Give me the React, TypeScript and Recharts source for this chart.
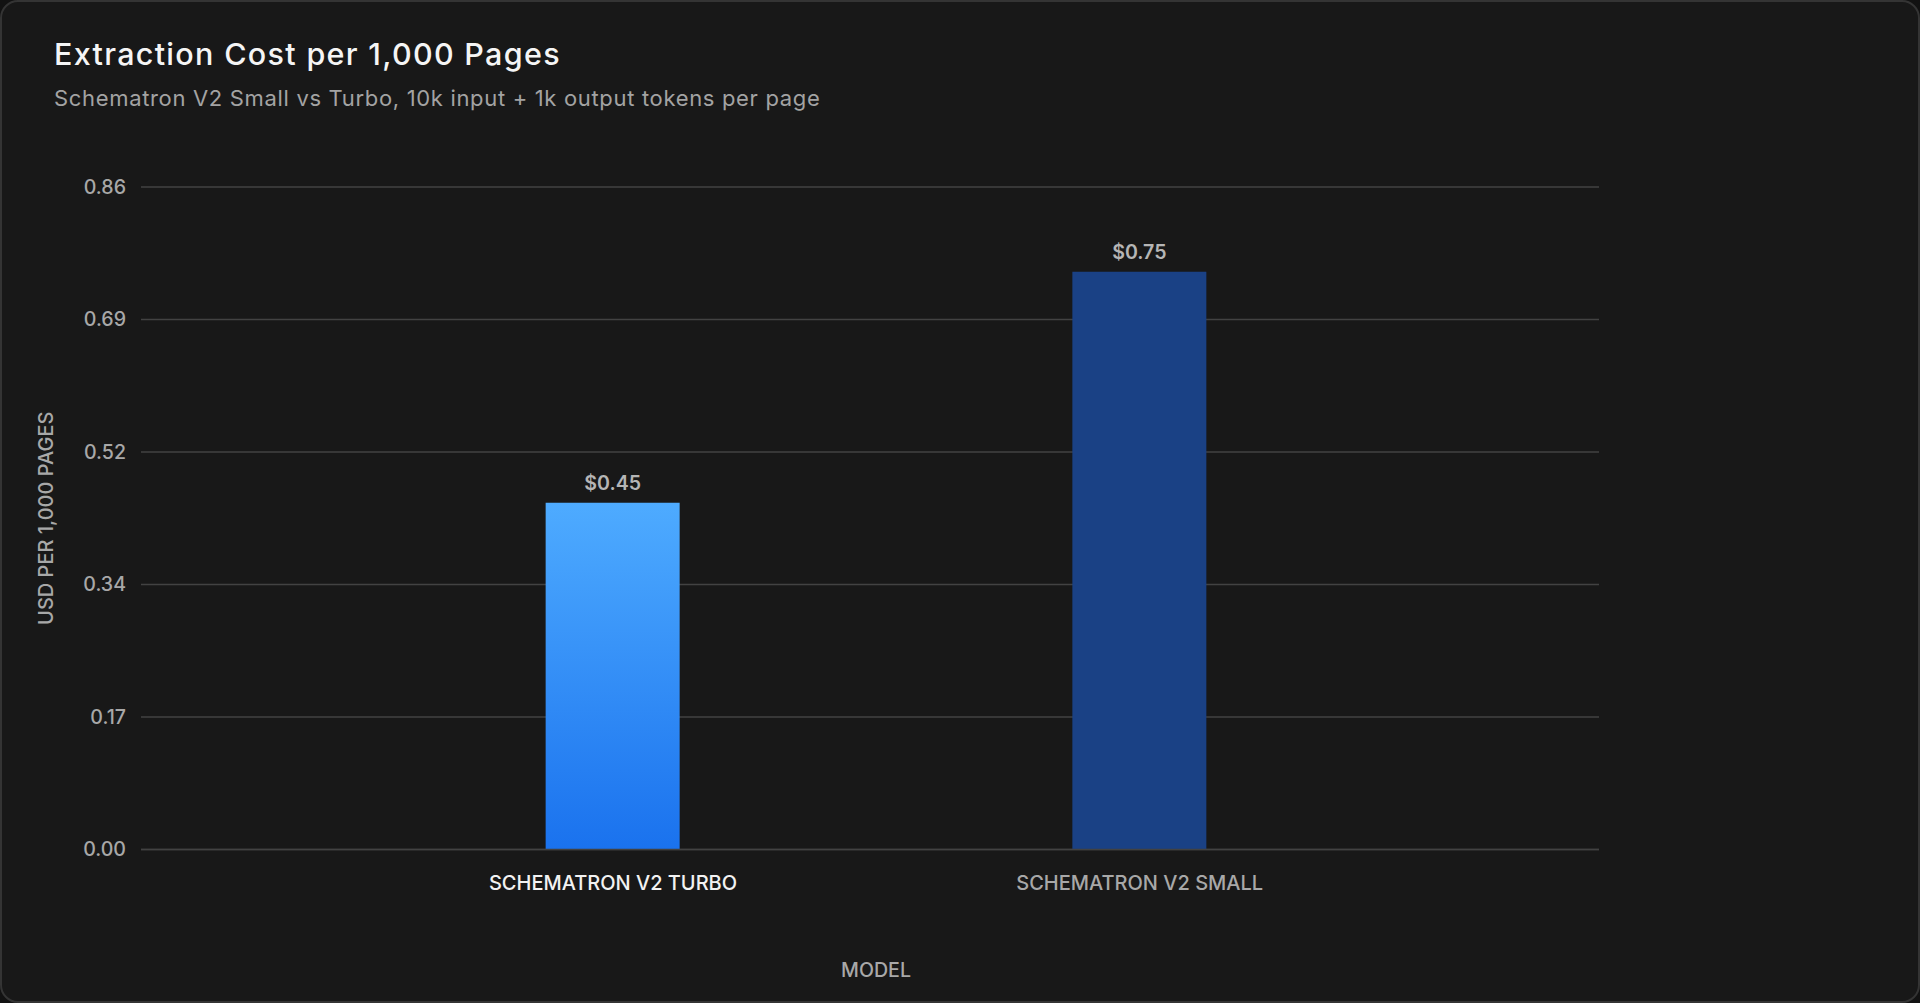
import React from "react";
import { BarChart, Bar, XAxis, YAxis, CartesianGrid, LabelList, Label, Cell } from "recharts";

const models = ["SCHEMATRON V2 TURBO", "SCHEMATRON V2 SMALL"];
const costs = [0.45, 0.75];
const yTicks = [0, 0.172, 0.344, 0.516, 0.688, 0.86];
const barFills = ["url(#turboGrad)", "#1a4185"];
const tickColors = ["#f2f2f2", "#a8a8a8"];

const data = models.map((m, i) => ({ model: m, cost: costs[i] }));

const FONT = "Inter, 'Noto Sans', sans-serif";

const XTick = (props: any) => {
  const { x, y, payload, index } = props;
  return (
    <text
      x={x}
      y={y}
      dy="0.71em"
      textAnchor="middle"
      fill={tickColors[index] ?? "#a8a8a8"}
      fontSize={20}
      fontWeight={500}
      fontFamily={FONT}
    >
      {payload.value}
    </text>
  );
};

export default function App() {
  return (
    <div style={{ position: "fixed", left: 0, top: 0, width: 1920, height: 1003, background: "#121212" }}>
      <div
        style={{
          position: "absolute",
          left: 0,
          top: 0,
          width: 1920,
          height: 1003,
          boxSizing: "border-box",
          border: "2px solid #343434",
          borderRadius: 18,
          background: "#181818",
        }}
      />
      <div
        style={{
          position: "absolute",
          left: 54,
          top: 39,
          fontFamily: FONT,
          fontSize: 30.5,
          lineHeight: 1,
          fontWeight: 500,
          letterSpacing: 1.3,
          color: "#f5f5f5",
          whiteSpace: "nowrap",
        }}
      >
        Extraction Cost per 1,000 Pages
      </div>
      <div
        style={{
          position: "absolute",
          left: 54,
          top: 87,
          fontFamily: FONT,
          fontSize: 22,
          lineHeight: 1,
          fontWeight: 400,
          letterSpacing: 0.67,
          color: "#a3a3a3",
          whiteSpace: "nowrap",
        }}
      >
        Schematron V2 Small vs Turbo, 10k input + 1k output tokens per page
      </div>
      <div style={{ position: "absolute", left: 0, top: 0 }}>
        <BarChart
          width={1920}
          height={1003}
          data={data}
          margin={{ top: 187, right: 321, bottom: 23.5, left: 0 }}
        >
          <defs>
            <linearGradient id="turboGrad" x1="0" y1="0" x2="0" y2="1">
              <stop offset="0%" stopColor="#4eabff" />
              <stop offset="100%" stopColor="#1a72ee" />
            </linearGradient>
          </defs>
          <CartesianGrid vertical={false} stroke="#424242" strokeWidth={1.3} />
          <XAxis
            dataKey="model"
            height={130}
            axisLine={{ stroke: "#424242", strokeWidth: 1.3 }}
            tickLine={false}
            tickSize={0}
            tickMargin={26}
            tick={<XTick />}
            padding={{ left: 208.65, right: 195.95 }}
            interval={0}
          >
            <Label
              value="MODEL"
              position="insideBottom"
              offset={3}
              dx={6}
              fill="#a8a8a8"
              fontSize={19.6}
              fontWeight={500}
              fontFamily={FONT}
            />
          </XAxis>
          <YAxis
            width={141}
            domain={[0, 0.86]}
            ticks={yTicks}
            tickFormatter={(v: number) => v.toFixed(2)}
            axisLine={false}
            tickLine={false}
            tickSize={0}
            tickMargin={15}
            tick={{ fill: "#a8a8a8", fontSize: 19.6, fontWeight: 500, fontFamily: FONT }}
          >
            <Label
              value="USD PER 1,000 PAGES"
              angle={-90}
              position="insideLeft"
              offset={46}
              style={{ textAnchor: "middle" }}
              fill="#a8a8a8"
              fontSize={20}
              fontWeight={500}
              fontFamily={FONT}
            />
          </YAxis>
          <Bar dataKey="cost" barSize={134} isAnimationActive={false}>
            {data.map((d, i) => (
              <Cell key={d.model} fill={barFills[i]} />
            ))}
            <LabelList
              dataKey="cost"
              position="top"
              offset={12.5}
              formatter={(v: any) => `$${Number(v).toFixed(2)}`}
              fill="#b5b5b5"
              fontSize={19.6}
              fontWeight={600}
              fontFamily={FONT}
            />
          </Bar>
        </BarChart>
      </div>
    </div>
  );
}
